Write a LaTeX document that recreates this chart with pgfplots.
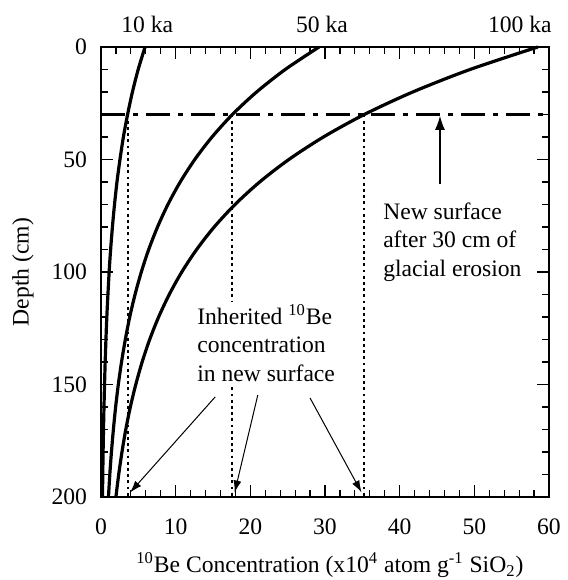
\documentclass[border=0pt]{standalone}
\usepackage{fontspec}
\setmainfont{Liberation Serif}
\usepackage{pgfplots}
\pgfplotsset{compat=1.18}
\usetikzlibrary{arrows.meta}

\begin{document}
\begin{tikzpicture}
\begin{axis}[
    width=224pt, height=225pt, scale only axis,
    xmin=0, xmax=60, ymin=0, ymax=200,
    y dir=reverse,
    xtick={0,10,...,60}, ytick={0,50,...,200},
    minor x tick num=4, minor y tick num=4,
    tick align=inside,
    major tick length=6pt, minor tick length=3.5pt,
    axis line style={line width=1pt},
    every tick/.style={line width=0.6pt, black},
    /pgf/number format/assume math mode=true,
    tick label style={font=\fontsize{11.8}{13}\selectfont},
    xticklabel style={yshift=-7.5pt},
    yticklabel style={xshift=-3.5pt},
    xlabel={\textsuperscript{10}Be Concentration (x10\textsuperscript{4} atom g\textsuperscript{-1} SiO\textsubscript{2})},
    ylabel={Depth (cm)},
    label style={font=\fontsize{11.8}{13}\selectfont, inner sep=0pt},
    xlabel style={at={(axis description cs:0.511,-0.152)}, anchor=center},
    ylabel style={at={(axis description cs:-0.174,0.5)}, anchor=center},
    clip=false,
]
% 100 ka
\addplot[black, line width=1.6pt, smooth] coordinates {
(58.5,0) (49.42,10) (41.75,20) (35.26,30) (29.79,40) (25.16,50) (21.25,60)
(17.95,70) (15.16,80) (12.81,90) (10.82,100) (9.14,110) (7.72,120) (6.52,130)
(5.51,140) (4.66,150) (3.93,160) (3.32,170) (2.81,180) (2.37,190) (2.00,200)};
% 50 ka
\addplot[black, line width=1.6pt, smooth] coordinates {
(29.2,0) (24.67,10) (20.84,20) (17.60,30) (14.87,40) (12.56,50) (10.61,60)
(8.96,70) (7.57,80) (6.39,90) (5.40,100) (4.56,110) (3.85,120) (3.26,130)
(2.75,140) (2.32,150) (1.96,160) (1.66,170) (1.40,180) (1.18,190) (1.00,200)};
% 10 ka
\addplot[black, line width=1.6pt, smooth] coordinates {
(5.9,0) (4.98,10) (4.21,20) (3.56,30) (3.00,40) (2.54,50) (2.14,60)
(1.81,70) (1.53,80) (1.29,90) (1.09,100) (0.78,120) (0.56,140)
(0.40,160) (0.28,180) (0.20,200)};
% new surface
\addplot[black, line width=1.3pt, dash pattern=on 12pt off 4pt on 2.5pt off 4pt] coordinates {(0,30) (60,30)};
% inherited concentration
\addplot[black, line width=1pt, dash pattern=on 1.4pt off 1.7pt] coordinates {(3.56,30) (3.56,200)};
\addplot[black, line width=1pt, dash pattern=on 1.4pt off 1.7pt] coordinates {(17.6,30) (17.6,200)};
\addplot[black, line width=1pt, dash pattern=on 1.4pt off 1.7pt] coordinates {(35.26,30) (35.26,200)};

\node[inner sep=0pt, font=\fontsize{11.8}{13}\selectfont] at (axis cs:6.2,-10.2) {10 ka};
\node[inner sep=0pt, font=\fontsize{11.8}{13}\selectfont] at (axis cs:29.6,-10.2) {50 ka};
\node[inner sep=0pt, font=\fontsize{11.8}{13}\selectfont] at (axis cs:56.1,-10.2) {100 ka};

\node[anchor=west, align=left, inner sep=0pt, font=\fontsize{11.8}{14.25}\selectfont]
  at (axis cs:37.75,86.7) {New surface\\after 30 cm of\\glacial erosion};
\draw[line width=0.6pt, -{Latex[length=7pt,width=5pt]}] (axis cs:45.4,61) -- (axis cs:45.4,30.6);

\node[anchor=west, align=left, inner sep=1.5pt, fill=white, font=\fontsize{11.8}{14.25}\selectfont]
  at ([xshift=-1.5pt]axis cs:12.85,131.6) {Inherited \textsuperscript{10}Be\\concentration\\in new surface};
\draw[line width=0.5pt, -{Latex[length=6pt,width=4pt]}] (axis cs:15.3,155.5) -- (axis cs:3.9,198);
\draw[line width=0.5pt, -{Latex[length=6pt,width=4pt]}] (axis cs:21.0,154.7) -- (axis cs:17.9,198);
\draw[line width=0.5pt, -{Latex[length=6pt,width=4pt]}] (axis cs:28.0,156) -- (axis cs:34.9,198);
\end{axis}
\path (current axis.south west) ++(-50.5pt,-41.5pt) coordinate (bl);
\path (current axis.north east) ++(5pt,23.5pt) coordinate (tr);
\path (bl) rectangle (tr);
\end{tikzpicture}
\end{document}
